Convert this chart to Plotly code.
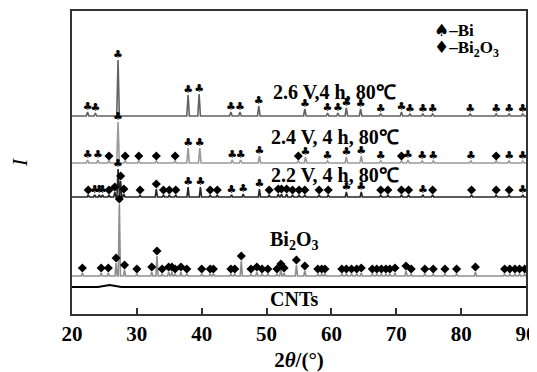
import plotly.graph_objects as go

# ---------------- data ----------------
tick_vals = [20, 30, 40, 50, 60, 70, 80, 90]
x_range = [20, 90]

pattern_names = ["2.6 V,4 h, 80℃", "2.4 V, 4 h, 80℃", "2.2 V, 4 h, 80℃", "Bi<sub>2</sub>O<sub>3</sub>", "CNTs"]
baselines = [198, 151, 117, 38, 27]          # vertical offsets of stacked patterns

# 2.6 V pattern (all Bi)
p26_pos = [22.4, 23.6, 27.1, 37.9, 39.6, 44.5, 45.9, 48.8, 55.9, 59.4, 61.0, 62.3, 64.5,
           67.6, 70.8, 72.1, 74.1, 75.6, 81.4, 85.4, 87.4, 89.5]
p26_hgt = [4, 3, 56, 21, 22, 4, 4, 10, 7, 3, 3, 8, 7, 2, 4, 2, 2, 2, 2, 2, 2, 2]
p26_phase = ["c"] * 22

# 2.4 V pattern
p24_pos = [22.4, 24.0, 25.7, 27.1, 28.2, 30.3, 33.0, 35.9, 37.9, 39.7, 44.7, 46.0, 48.9,
           54.9, 56.0, 59.4, 62.3, 64.6, 67.6, 70.8, 71.8, 74.0, 75.7, 81.5, 85.4, 87.4, 89.5]
p24_hgt = [3, 3, 2, 41, 2, 2, 2, 2, 15, 15, 3, 3, 7, 2, 6, 2, 6, 7, 2, 2, 3, 2, 2, 2, 2, 2, 2]
p24_phase = ["c", "c", "d", "c", "d", "d", "d", "d", "c", "c", "c", "c", "c",
             "d", "c", "c", "c", "c", "c", "d", "c", "c", "c", "c", "d", "c", "c"]

# 2.2 V pattern
p22_pos = [22.5, 23.5, 24.2, 24.7, 25.7, 26.6, 27.1, 27.5, 28.0, 30.5, 33.0, 34.1, 35.0,
           36.0, 37.9, 39.8, 41.3, 42.4, 44.6, 46.4, 48.9, 50.4, 51.8, 52.3, 53.1, 54.0,
           55.0, 55.9, 58.1, 59.5, 62.3, 64.6, 67.6, 68.7, 70.8, 71.9, 74.1, 75.6, 81.6,
           85.4, 87.4, 89.5]
p22_hgt = [2, 2, 2, 2, 2, 5, 28, 16, 3, 2, 8, 2, 2,
           2, 10, 10, 2, 2, 2, 3, 8, 2, 3, 3, 3, 2,
           2, 2, 2, 2, 5, 5, 2, 2, 2, 2, 2, 2, 2,
           2, 2, 2]
p22_phase = ["d", "c", "c", "c", "d", "d", "c", "d", "d", "d", "d", "d", "d",
             "d", "c", "c", "d", "d", "c", "c", "c", "d", "d", "d", "d", "d",
             "d", "d", "d", "d", "c", "c", "d", "d", "d", "d", "c", "d", "d",
             "d", "d", "c"]

# Bi2O3 reference pattern (all Bi2O3)
pbo_pos = [21.6, 24.5, 25.6, 26.8, 27.3, 28.1, 30.0, 32.3, 33.1, 33.9, 34.9, 35.4, 35.9,
           36.8, 37.7, 40.0, 41.3, 41.8, 44.5, 45.1, 46.1, 47.6, 48.5, 49.3, 50.2, 51.6,
           52.2, 52.7, 54.6, 55.9, 57.9, 58.5, 59.0, 61.6, 62.3, 63.1, 63.9, 64.6, 66.3,
           67.0, 67.7, 68.4, 69.0, 69.8, 71.5, 72.3, 74.4, 75.7, 77.5, 79.3, 82.2, 86.7,
           87.5, 88.3, 89.0, 89.8]
pbo_hgt = [3, 3, 3, 13, 72, 6, 2, 4, 20, 2, 4, 4, 2,
           4, 2, 2, 2, 2, 2, 2, 15, 2, 4, 2, 2, 2,
           7, 3, 11, 5, 2, 2, 2, 2, 2, 2, 2, 3, 2,
           2, 2, 2, 2, 3, 5, 2, 2, 2, 2, 2, 4, 2,
           2, 2, 2, 2]
pbo_phase = ["d"] * 56

# CNTs pattern: a single broad hump
pcnt_pos = [25.8]
pcnt_hgt = [2]
pcnt_phase = [None]

patterns = [
    (p26_pos, p26_hgt, p26_phase),
    (p24_pos, p24_hgt, p24_phase),
    (p22_pos, p22_hgt, p22_phase),
    (pbo_pos, pbo_hgt, pbo_phase),
    (pcnt_pos, pcnt_hgt, pcnt_phase),
]

# ---------------- styles ----------------
line_colors = ["#626262", "#9a9a9a", "#262626", "#8e8e8e", "#000000"]
line_widths = [1.6, 1.6, 1.6, 1.6, 2.0]
half_widths = [0.2, 0.2, 0.17, 0.17, 1.8]
label_pos = [(60.5, 222), (60.5, 177), (60.5, 139), (54.2, 74), (54.3, 15)]
mark_gap = 5
SERIF = "Liberation Serif, Times New Roman, serif"

fig = go.Figure()

club_x, club_y, dia_x, dia_y = [], [], [], []
for i, (pos, hgt, ph) in enumerate(patterns):
    base = baselines[i]
    w = half_widths[i]
    xs, ys = [x_range[0]], [base]
    for p, h in sorted(zip(pos, hgt)):
        xs += [p - w, p, p + w]
        ys += [base, base + h, base]
    xs.append(x_range[1])
    ys.append(base)
    fig.add_trace(go.Scatter(x=xs, y=ys, mode="lines",
                             line=dict(color=line_colors[i], width=line_widths[i]),
                             hoverinfo="skip", showlegend=False))
    for p, h, f in zip(pos, hgt, ph):
        if f == "c":
            club_x.append(p); club_y.append(base + h + mark_gap)
        elif f == "d":
            dia_x.append(p); dia_y.append(base + h + mark_gap)

fig.add_trace(go.Scatter(x=club_x, y=club_y, mode="text", text=["♣"] * len(club_x),
                         textposition="middle center",
                         textfont=dict(family="DejaVu Sans", size=11, color="#000"),
                         showlegend=False, hoverinfo="skip"))
fig.add_trace(go.Scatter(x=dia_x, y=dia_y, mode="markers",
                         marker=dict(symbol="diamond", size=7, color="#000"),
                         showlegend=False, hoverinfo="skip"))

# pattern labels
for name, (lx, ly) in zip(pattern_names, label_pos):
    fig.add_annotation(x=lx, y=ly, text="<b>" + name + "</b>", showarrow=False,
                       font=dict(family=SERIF, size=20, color="#000"))

# legend-like key
fig.add_annotation(x=75.5, y=284, xanchor="left", yanchor="middle", showarrow=False,
                   text="<span style='font-family:DejaVu Sans'>♠</span><b>–Bi</b>",
                   font=dict(family=SERIF, size=17, color="#000"))
fig.add_annotation(x=75.5, y=266, xanchor="left", yanchor="middle", showarrow=False,
                   text="<span style='font-family:DejaVu Sans'>♦</span><b>–Bi<sub>2</sub>O<sub>3</sub></b>",
                   font=dict(family=SERIF, size=17, color="#000"))

# page body has an 8 px default margin -> figure is drawn 8 px right/down
fig.update_layout(
    width=529, height=364,
    margin=dict(l=64, r=11, t=3, b=58),
    plot_bgcolor="white", paper_bgcolor="white",
    xaxis=dict(range=x_range, tickvals=tick_vals, ticks="inside", ticklen=6,
               tickcolor="#333", tickwidth=1.5, automargin=False,
               showline=True, mirror=True, linecolor="#333", linewidth=1.6,
               showgrid=False, zeroline=False,
               tickfont=dict(family=SERIF, size=21, color="#000", weight="bold"),
               title=dict(text="<b>2<i>θ</i>/(°)</b>", standoff=15,
                          font=dict(family=SERIF, size=21, color="#000"))),
    yaxis=dict(range=[0, 303], showticklabels=False, ticks="", automargin=False,
               showline=True, mirror=True, linecolor="#333", linewidth=1.6,
               showgrid=False, zeroline=False,
               title=dict(text="<i>I</i>", standoff=46,
                          font=dict(family=SERIF, size=21, color="#000"))),
)

fig.write_html("out.html")
